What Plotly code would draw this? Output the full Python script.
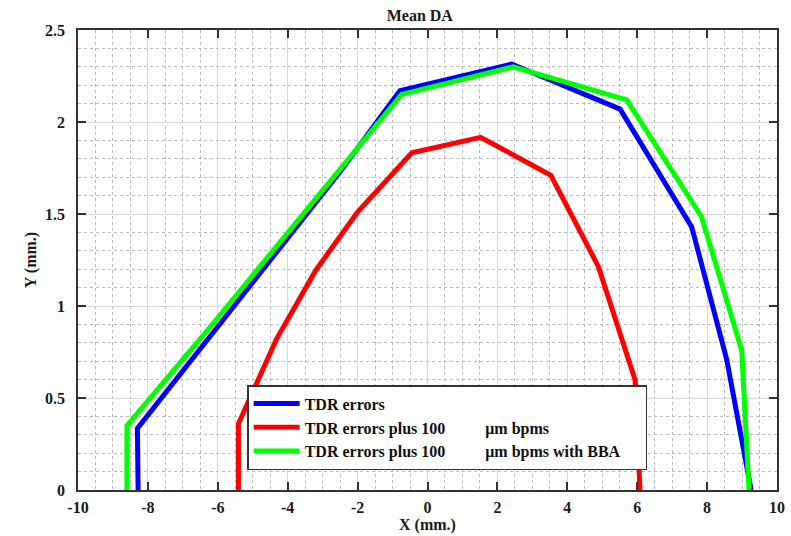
import plotly.graph_objects as go

# Data
tdr_x = [-8.28, -8.30, -6.2, -4.3, -2.5, -0.79, 2.41, 5.51, 7.56, 8.56, 9.26]
tdr_y = [0.0, 0.335, 0.84, 1.30, 1.73, 2.17, 2.315, 2.07, 1.43, 0.71, 0.0]

bpm_x = [-5.41, -5.41, -4.32, -3.19, -2.0, -0.45, 1.52, 3.53, 4.89, 5.94, 6.08]
bpm_y = [0.0, 0.36, 0.82, 1.196, 1.51, 1.833, 1.917, 1.71, 1.214, 0.598, 0.0]

bba_x = [-8.60, -8.60, -6.2, -4.3, -2.5, -0.74, 2.45, 5.70, 7.84, 8.99, 9.20]
bba_y = [0.0, 0.35, 0.89, 1.33, 1.74, 2.15, 2.30, 2.12, 1.485, 0.76, 0.0]

x_ticks = [-10, -8, -6, -4, -2, 0, 2, 4, 6, 8, 10]
x_ticklabels = ["-10", "-8", "-6", "-4", "-2", "0", "2", "4", "6", "8", "10"]
y_ticks = [0, 0.5, 1, 1.5, 2, 2.5]
y_ticklabels = ["0", "0.5", "1", "1.5", "2", "2.5"]

GAP = "\u00a0" * 10
names = ["TDR errors",
         "TDR errors plus 100" + GAP + "μm bpms",
         "TDR errors plus 100" + GAP + "μm bpms with BBA" + "\u00a0" * 5]
colors = ["#0000ff", "#ff0000", "#00ff00"]

FONT = "Liberation Serif"
TXT = "#1a1a1a"

fig = go.Figure()
for xs, ys, nm, c in [(tdr_x, tdr_y, names[0], colors[0]),
                      (bpm_x, bpm_y, names[1], colors[1]),
                      (bba_x, bba_y, names[2], colors[2])]:
    fig.add_trace(go.Scatter(x=xs, y=ys, mode="lines", name="<b>" + nm + "</b>",
                             line=dict(color=c, width=5)))

axis_common = dict(
    showline=True, linecolor="#333333", linewidth=1.5, mirror="ticks",
    ticks="inside", ticklen=8, tickcolor="#333333", tickwidth=1.5,
    showgrid=True, gridcolor="#d8d8d8", gridwidth=1,
    zeroline=False, automargin=False,
    tickfont=dict(family=FONT, size=16, color=TXT),
)

fig.update_xaxes(range=[-10, 10], tickvals=x_ticks,
                 ticktext=["<b>" + t + "</b>" for t in x_ticklabels],
                 minor=dict(dtick=0.5, tick0=-10, showgrid=True, gridcolor="#bbbbbb",
                            griddash="dot", gridwidth=1),
                 title=dict(text="<b>X (mm.)</b>", font=dict(family=FONT, size=16, color=TXT),
                            standoff=2),
                 ticklabelstandoff=2,
                 **axis_common)
fig.update_yaxes(range=[0, 2.5], tickvals=y_ticks,
                 ticktext=["<b>" + t + "</b>" for t in y_ticklabels],
                 minor=dict(dtick=0.1, tick0=0, showgrid=True, gridcolor="#bbbbbb",
                            griddash="dot", gridwidth=1),
                 title=dict(text="<b>Y (mm.)</b>", font=dict(family=FONT, size=16, color=TXT),
                            standoff=4),
                 ticklabelstandoff=8,
                 **axis_common)

fig.update_layout(
    width=791, height=536,
    margin=dict(l=78, r=14, t=30, b=46, autoexpand=False),
    paper_bgcolor="white", plot_bgcolor="white",
    title=dict(text="<b>Mean DA</b>", x=0.489, xref="paper", xanchor="center",
               y=0.972, yanchor="middle",
               font=dict(family=FONT, size=16, color=TXT)),
    font=dict(family=FONT, color=TXT),
    legend=dict(x=0.242, y=0.228, xanchor="left", yanchor="top",
                bgcolor="white", bordercolor="#333333", borderwidth=1.5,
                font=dict(family=FONT, size=16, color="#111111"),
                tracegroupgap=0, itemwidth=46),
    showlegend=True,
)

fig.write_html("out.html")
